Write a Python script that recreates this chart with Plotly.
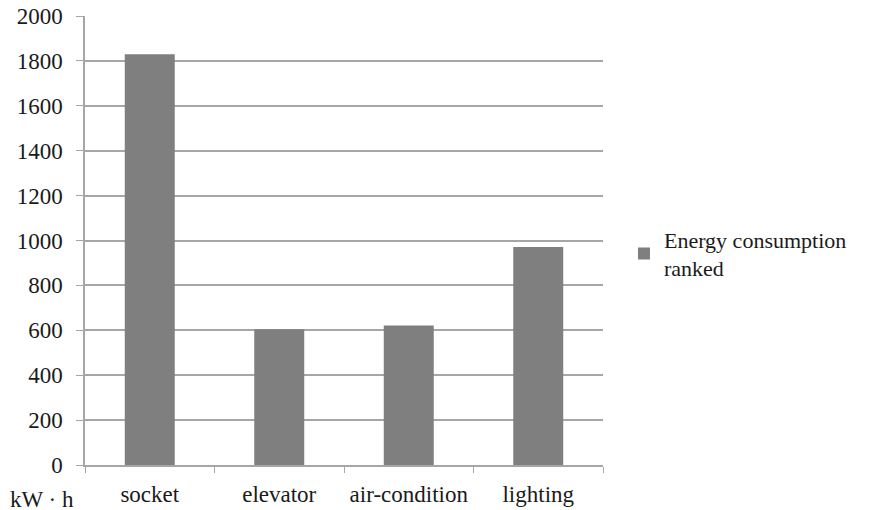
import plotly.graph_objects as go

categories = ["socket", "elevator", "air-condition", "lighting"]
values = [1830, 605, 621, 971]
series_name = "Energy consumption<br>ranked"
y_ticks = [0, 200, 400, 600, 800, 1000, 1200, 1400, 1600, 1800, 2000]

FONT = "'Times New Roman', 'Liberation Serif', 'DejaVu Serif', serif"
GRID = "#a6a6a6"
TXT = "#1a1a1a"

fig = go.Figure()
fig.add_trace(go.Bar(
    x=categories, y=values, name=series_name,
    marker=dict(color="#7f7f7f", line=dict(width=0)),
    showlegend=True,
))

# page body has an 8px margin: figure sized/offset to compensate
fig.update_layout(
    width=863, height=502,
    margin=dict(l=77, r=268, t=8, b=45, autoexpand=False),
    paper_bgcolor="white", plot_bgcolor="white",
    font=dict(family=FONT, size=22, color=TXT),
    bargap=0.614,
    showlegend=True,
    legend=dict(x=1.0405, xanchor="left", y=0.47, yanchor="middle",
                font=dict(family=FONT, size=22, color=TXT),
                bgcolor="rgba(0,0,0,0)"),
    xaxis=dict(
        automargin=False,
        showline=True, linecolor=GRID, linewidth=1.5,
        ticks="outside", tickson="boundaries", ticklen=6, tickcolor=GRID,
        ticklabelstandoff=8, tickangle=0,
        showgrid=False, tickfont=dict(family=FONT, size=23, color=TXT),
    ),
    yaxis=dict(
        automargin=False,
        range=[0, 2000], tickvals=y_ticks,
        showline=True, linecolor=GRID, linewidth=1.5,
        ticks="outside", ticklen=7, tickcolor=GRID,
        ticklabelstandoff=9, ticklabeloverflow="allow",
        showgrid=True, gridcolor=GRID, gridwidth=1.5,
        zeroline=False,
        tickfont=dict(family=FONT, size=23, color=TXT),
    ),
)

fig.add_annotation(
    x=-77 / 518, xref="paper", xanchor="left",
    y=-34 / 449, yref="paper", yanchor="middle",
    text="kW · h", showarrow=False,
    font=dict(family=FONT, size=23, color=TXT),
)

fig.write_html("out.html")
